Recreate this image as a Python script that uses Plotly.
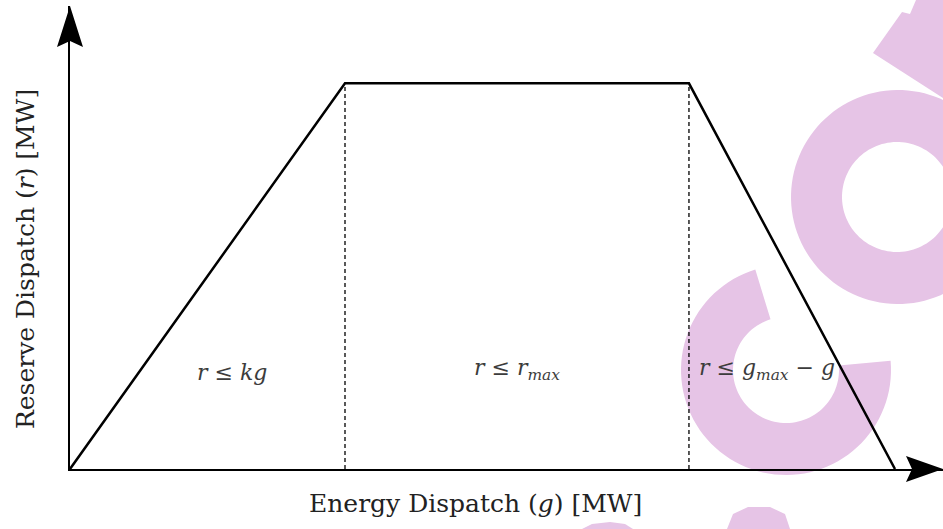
import numpy as np
import plotly.graph_objects as go

# ---- data ----
g_points = [0, 3.15, 7.09, 9.45]          # energy dispatch breakpoints
r_points = [0, 8.33, 8.33, 0]             # reserve dispatch limits
dash_g = [3.15, 7.09]                     # region boundaries
r_max = 8.33
region_labels = ["<i>r</i> ≤ <i>kg</i>",
                 "<i>r</i> ≤ <i>r</i><sub><i>max</i></sub>",
                 "<i>r</i> ≤ <i>g</i><sub><i>max</i></sub> − <i>g</i>"]
region_label_x = [1.86, 5.12, 7.98]
region_label_y = [2.08, 2.15, 2.15]
x_title = "Energy Dispatch (<i>g</i>) [MW]"
y_title = "Reserve Dispatch (<i>r</i>) [MW]"

W, H = 943, 529
ML, MR, MT, MB = 70, 0, 6, 60
PW, PH = W - ML - MR, H - MT - MB

def px(xp):
    return (xp - ML) / PW

def py(yp):
    return (H - MB - yp) / PH

FONT = "DejaVu Serif"
PINK = "rgb(230,196,230)"

fig = go.Figure()

# dashed boundaries
for gx in dash_g:
    fig.add_trace(go.Scatter(x=[gx, gx], y=[0, r_max], mode="lines",
                             line=dict(color="black", width=1.3, dash="4px,3px"),
                             hoverinfo="skip", showlegend=False))

# trapezoid
fig.add_trace(go.Scatter(x=g_points, y=r_points, mode="lines",
                         line=dict(color="black", width=2.5),
                         hoverinfo="skip", showlegend=False))

shapes = []

def poly_path(pts):
    return "M " + " L ".join(f"{px(a):.5f},{py(b):.5f}" for a, b in pts) + " Z"

def ring_pts(cx, cy, R, a0, a1, n=80):
    t = np.radians(np.linspace(a0, a1, n))
    return list(zip(cx + R * np.cos(t), cy + R * np.sin(t)))

# watermark: "C"
outer = ring_pts(786, 370, 105, -5, 253)
inner = ring_pts(786, 370, 53, 253, -5)
shapes.append(dict(type="path", path=poly_path(outer + inner), xref="paper", yref="paper",
                   fillcolor=PINK, line=dict(width=0), layer="below"))
# watermark: "O" ring
o_out = ring_pts(898, 197, 107, 0, 360, 120)
o_in = ring_pts(897, 197, 55, 360, 0, 120)
path_o = poly_path(o_out) + " " + poly_path(o_in)
shapes.append(dict(type="path", path=path_o, xref="paper", yref="paper",
                   fillcolor=PINK, line=dict(width=0), layer="below"))
# top bar piece
shapes.append(dict(type="path",
                   path=poly_path([(873, 53), (902, 12), (910, 14), (916, 0), (943, 0), (943, 98)]),
                   xref="paper", yref="paper", fillcolor=PINK, line=dict(width=0), layer="below"))
# bottom pieces
shapes.append(dict(type="path",
                   path=poly_path([(727, 529), (733, 514), (748, 507), (770, 507), (785, 514), (790, 529)]),
                   xref="paper", yref="paper", fillcolor=PINK, line=dict(width=0), layer="below"))
shapes.append(dict(type="path",
                   path=poly_path([(582, 529), (592, 524), (610, 522), (625, 524), (633, 529)]),
                   xref="paper", yref="paper", fillcolor=PINK, line=dict(width=0), layer="below"))

# arrowheads
shapes.append(dict(type="path",
                   path=poly_path([(70, 6), (83, 47), (70, 41), (57, 47)]),
                   xref="paper", yref="paper", fillcolor="black", line=dict(width=0)))
shapes.append(dict(type="path",
                   path=poly_path([(943, 469), (906, 482), (912, 469), (906, 456)]),
                   xref="paper", yref="paper", fillcolor="black", line=dict(width=0)))

annotations = []
for t, xx, yy in zip(region_labels, region_label_x, region_label_y):
    annotations.append(dict(text=t, x=xx, y=yy, xref="x", yref="y", showarrow=False,
                            xanchor="center", yanchor="middle",
                            font=dict(family=FONT, size=22, color="#3c3c3c")))
annotations.append(dict(text=x_title, x=px(475), y=py(503), xref="paper", yref="paper",
                        showarrow=False, xanchor="center", yanchor="middle",
                        font=dict(family=FONT, size=25, color="#222")))
annotations.append(dict(text=y_title, x=px(25), y=py(259), xref="paper", yref="paper",
                        showarrow=False, textangle=-90, xanchor="center", yanchor="middle",
                        font=dict(family=FONT, size=25, color="#222")))

fig.update_layout(
    width=W, height=H,
    margin=dict(l=ML, r=MR, t=MT, b=MB, pad=0),
    paper_bgcolor="white", plot_bgcolor="white",
    shapes=shapes, annotations=annotations,
    xaxis=dict(range=[0, 10], showgrid=False, zeroline=False, showticklabels=False,
               ticks="", showline=True, linecolor="black", linewidth=1.8, fixedrange=True),
    yaxis=dict(range=[0, 10], showgrid=False, zeroline=False, showticklabels=False,
               ticks="", showline=True, linecolor="black", linewidth=1.8, fixedrange=True),
    showlegend=False,
)

fig.write_html("out.html")
